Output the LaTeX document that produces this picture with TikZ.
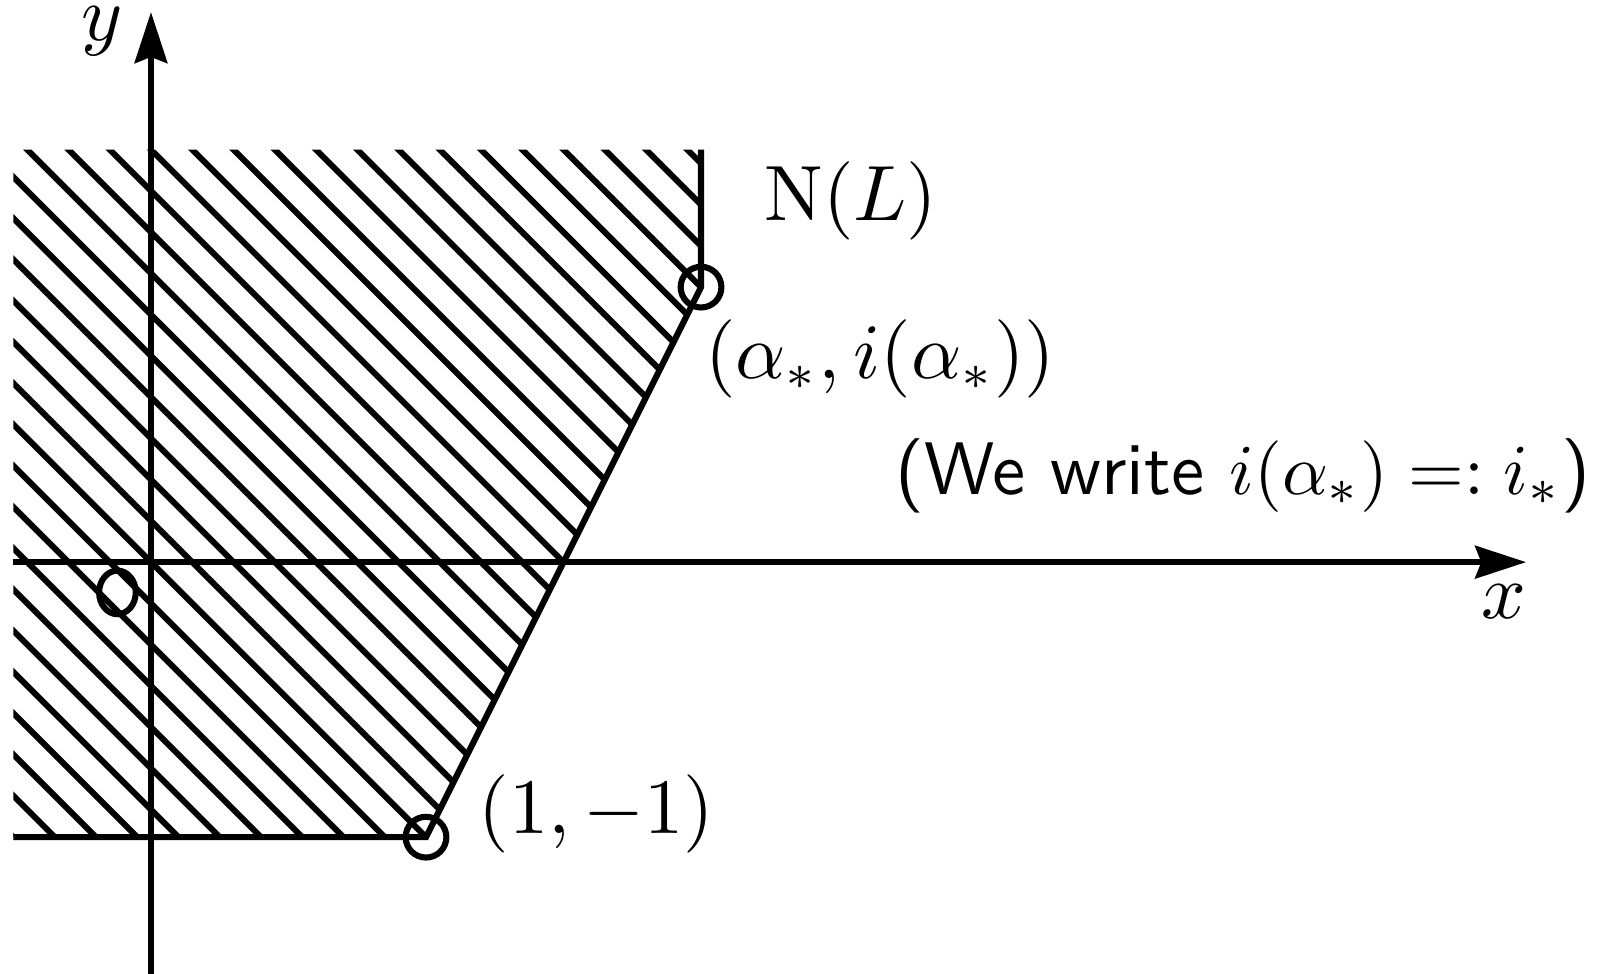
\documentclass[tikz,border=0pt]{standalone}
\usepackage{amsmath,amssymb}
\usetikzlibrary{arrows.meta}
\tikzset{
  axis/.style={-{Stealth[length=2.5mm,width=1.6mm,inset=0.3mm]}},
  mark circle/.style={radius=1mm},
  lbl/.style={anchor=base,inner sep=0pt}
}

\begin{document}
\begin{tikzpicture}[x=1.35cm,y=1.35cm,line width=0.85pt,>=Stealth,
  font=\fontsize{10.7}{13}\selectfont]
\useasboundingbox (-0.549,-1.495) rectangle (5.276,2.044);
\coordinate (o) at (0,0);
\coordinate (p) at (1,-1);
\coordinate (q) at (2,1);
\coordinate (top) at (2,1.5);
\coordinate (left) at (-0.5,-1);
% hatched region N(L)
\begin{scope}
\clip (-0.5,1.5) -- (top) -- (q) -- (p) -- (left) -- cycle;
\foreach \k in {-10,...,23}
  \draw (0.15*\k-2,2) -- (0.15*\k+2,-2);
\end{scope}
% axes
\draw[axis] (-0.5,0) -- (5,0);
\draw[axis] (0,-1.5) -- (0,2);
% boundary of the region
\draw (left) -- (p) -- (q) -- (top);
\draw (p) circle[mark circle];
\draw (q) circle[mark circle];
\draw (-0.122,-0.110) ellipse (0.9mm and 1.07mm);
% labels
\node[lbl] (ylabel) at (-0.176,1.898) {$y$};
\node[lbl] (xlabel) at (4.92,-0.204) {$x$};
\node[lbl] (nl) at (2.545,1.244) {$\mathrm{N}(L)$};
\node[lbl] (qlabel) at (2.651,0.669) {$(\alpha_*, i(\alpha_*))$};
\node[lbl] (plabel) at (1.620,-0.986) {$(1,-1)$};
\node[lbl,font=\fontsize{10.4}{13}\selectfont] (note) at (3.971,0.247)
  {\textsf{(We write $i(\alpha_*) =: i_*$)}};
\end{tikzpicture}
\end{document}
